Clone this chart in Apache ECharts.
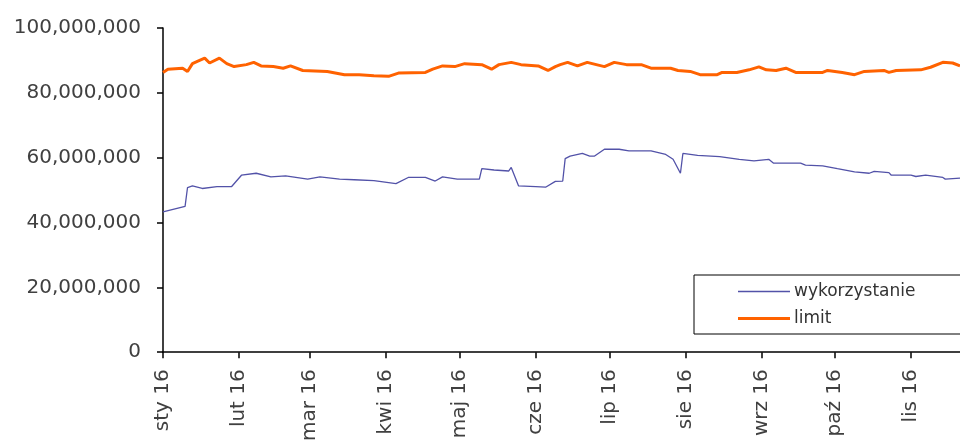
<!DOCTYPE html>
<html>
<head>
<meta charset="utf-8">
<script src="https://cdn.jsdelivr.net/npm/echarts@6/dist/echarts.min.js"></script>
<style>
  html, body { margin: 0; padding: 0; background: #ffffff; }
  #chart { width: 960px; height: 444px; }
</style>
</head>
<body>
<div id="chart"></div>
<script>
// Axis range (category days) and month labels
var startDate = '2016-01-01';
var endDate = '2016-11-21';
var monthNames = ['sty', 'lut', 'mar', 'kwi', 'maj', 'cze', 'lip', 'sie', 'wrz', 'paź', 'lis', 'gru'];
var yTicks = [0, 20000000, 40000000, 60000000, 80000000, 100000000];

// wykorzystanie (millions)
var usageDates = ['2016-01-01','2016-01-10','2016-01-11','2016-01-13','2016-01-17','2016-01-23','2016-01-29',
  '2016-02-02','2016-02-08','2016-02-14','2016-02-20','2016-02-29','2016-03-05','2016-03-13','2016-03-19',
  '2016-03-27','2016-04-05','2016-04-10','2016-04-17','2016-04-21','2016-04-24','2016-04-30','2016-05-09',
  '2016-05-10','2016-05-15','2016-05-21','2016-05-22','2016-05-25','2016-06-01','2016-06-05','2016-06-09',
  '2016-06-12','2016-06-13','2016-06-15','2016-06-20','2016-06-23','2016-06-25','2016-06-29','2016-07-05',
  '2016-07-09','2016-07-18','2016-07-24','2016-07-27','2016-07-30','2016-07-31','2016-08-06','2016-08-15',
  '2016-08-23','2016-08-29','2016-09-04','2016-09-06','2016-09-17','2016-09-19','2016-09-26','2016-10-02',
  '2016-10-09','2016-10-15','2016-10-17','2016-10-23','2016-10-24','2016-11-01','2016-11-03','2016-11-07',
  '2016-11-14','2016-11-15','2016-11-21'];
var usageValues = [43.3,45.0,50.8,51.3,50.5,51.1,51.1,
  54.6,55.2,54.1,54.4,53.4,54.1,53.4,53.2,
  52.9,52.0,53.9,53.9,52.8,54.1,53.4,53.4,
  56.6,56.2,55.9,57.0,51.3,51.1,50.9,52.7,
  52.8,59.7,60.5,61.3,60.5,60.5,62.6,62.6,
  62.1,62.1,61.0,59.5,55.2,61.3,60.7,60.3,
  59.5,59.0,59.5,58.3,58.3,57.7,57.5,56.6,
  55.6,55.2,55.8,55.4,54.6,54.6,54.2,54.6,
  53.9,53.4,53.7];

// limit (millions)
var limitDates = ['2016-01-01','2016-01-03','2016-01-09','2016-01-11','2016-01-13','2016-01-15','2016-01-18',
  '2016-01-20','2016-01-24','2016-01-27','2016-01-30','2016-02-04','2016-02-07','2016-02-10','2016-02-15',
  '2016-02-19','2016-02-22','2016-02-27','2016-03-08','2016-03-15','2016-03-21','2016-03-27','2016-04-02',
  '2016-04-06','2016-04-17','2016-04-20','2016-04-24','2016-04-29','2016-05-03','2016-05-10','2016-05-14',
  '2016-05-17','2016-05-22','2016-05-26','2016-06-02','2016-06-06','2016-06-09','2016-06-11','2016-06-14',
  '2016-06-18','2016-06-22','2016-06-29','2016-07-03','2016-07-08','2016-07-14','2016-07-18','2016-07-26',
  '2016-07-29','2016-08-03','2016-08-07','2016-08-14','2016-08-16','2016-08-22','2016-08-27','2016-08-31',
  '2016-09-03','2016-09-07','2016-09-11','2016-09-15','2016-09-26','2016-09-28','2016-10-04','2016-10-09',
  '2016-10-13','2016-10-21','2016-10-23','2016-10-26','2016-11-05','2016-11-09','2016-11-14','2016-11-18',
  '2016-11-21'];
var limitValues = [86.3,87.3,87.6,86.6,89.0,89.7,90.7,
  89.2,90.7,89.0,88.1,88.7,89.4,88.3,88.1,
  87.6,88.3,86.9,86.6,85.6,85.6,85.3,85.1,
  86.1,86.3,87.3,88.3,88.1,89.0,88.7,87.3,
  88.7,89.4,88.7,88.3,86.9,88.1,88.7,89.4,
  88.3,89.4,88.1,89.4,88.7,88.7,87.6,87.6,
  86.9,86.6,85.6,85.6,86.3,86.3,87.1,88.0,
  87.1,86.9,87.6,86.3,86.3,86.9,86.3,85.6,
  86.6,86.9,86.3,86.9,87.1,87.9,89.4,89.2,
  88.3];

// Build daily category list
function pad(n) { return (n < 10 ? '0' : '') + n; }
var categories = [];
(function () {
  var d = new Date(startDate + 'T00:00:00Z');
  var e = new Date(endDate + 'T00:00:00Z');
  while (d <= e) {
    categories.push(d.getUTCFullYear() + '-' + pad(d.getUTCMonth() + 1) + '-' + pad(d.getUTCDate()));
    d.setUTCDate(d.getUTCDate() + 1);
  }
})();

function pairs(dates, vals) {
  return dates.map(function (d, i) { return [d, vals[i] * 1e6]; });
}
function isMonthStart(index, value) { return /-01$/.test(value); }

var font = 'DejaVu Sans';
var chart = echarts.init(document.getElementById('chart'), null, { renderer: 'canvas' });
chart.setOption({
  animation: false,
  backgroundColor: '#ffffff',
  grid: { left: 163, top: 28, right: 0, bottom: 90 },
  legend: {
    orient: 'vertical',
    left: 694,
    top: 275,
    padding: [8, 80, 7, 44],
    itemGap: 10,
    itemWidth: 52,
    itemHeight: 14,
    symbolKeepAspect: true,
    borderColor: '#000000',
    borderWidth: 1,
    itemStyle: { borderWidth: 0 },
    textStyle: { fontFamily: font, fontSize: 17, color: '#333333', padding: [0, 0, 0, -1] },
    data: [
      { name: 'wykorzystanie', icon: 'path://M0,0H52V1.3H0Z' },
      { name: 'limit', icon: 'path://M0,0H52V3H0Z' }
    ]
  },
  xAxis: {
    type: 'category',
    data: categories,
    boundaryGap: false,
    axisLine: { lineStyle: { color: '#000000', width: 1.5 } },
    axisTick: { interval: isMonthStart, length: 6, lineStyle: { color: '#000000', width: 1.5 } },
    axisLabel: {
      interval: isMonthStart,
      rotate: 90,
      margin: 17,
      fontFamily: font,
      fontSize: 20,
      color: '#404040',
      formatter: function (v) {
        var m = parseInt(v.substr(5, 2), 10) - 1;
        return monthNames[m] + ' ' + v.substr(2, 2);
      }
    },
    splitLine: { show: false }
  },
  yAxis: {
    type: 'value',
    min: yTicks[0],
    max: yTicks[yTicks.length - 1],
    interval: yTicks[1] - yTicks[0],
    axisLine: { show: true, lineStyle: { color: '#000000', width: 1.5 } },
    axisTick: { show: true, length: 6, lineStyle: { color: '#000000', width: 1.5 } },
    axisLabel: {
      margin: 22,
      fontFamily: font,
      fontSize: 20,
      color: '#404040',
      formatter: function (v) { return Number(v).toLocaleString('en-US'); }
    },
    splitLine: { show: false }
  },
  series: [
    {
      name: 'wykorzystanie',
      type: 'line',
      symbol: 'none',
      data: pairs(usageDates, usageValues),
      lineStyle: { color: '#5252a8', width: 1.3 },
      itemStyle: { color: '#5252a8' }
    },
    {
      name: 'limit',
      type: 'line',
      symbol: 'none',
      data: pairs(limitDates, limitValues),
      lineStyle: { color: '#ff6200', width: 3 },
      itemStyle: { color: '#ff6200' }
    }
  ]
});
</script>
</body>
</html>
